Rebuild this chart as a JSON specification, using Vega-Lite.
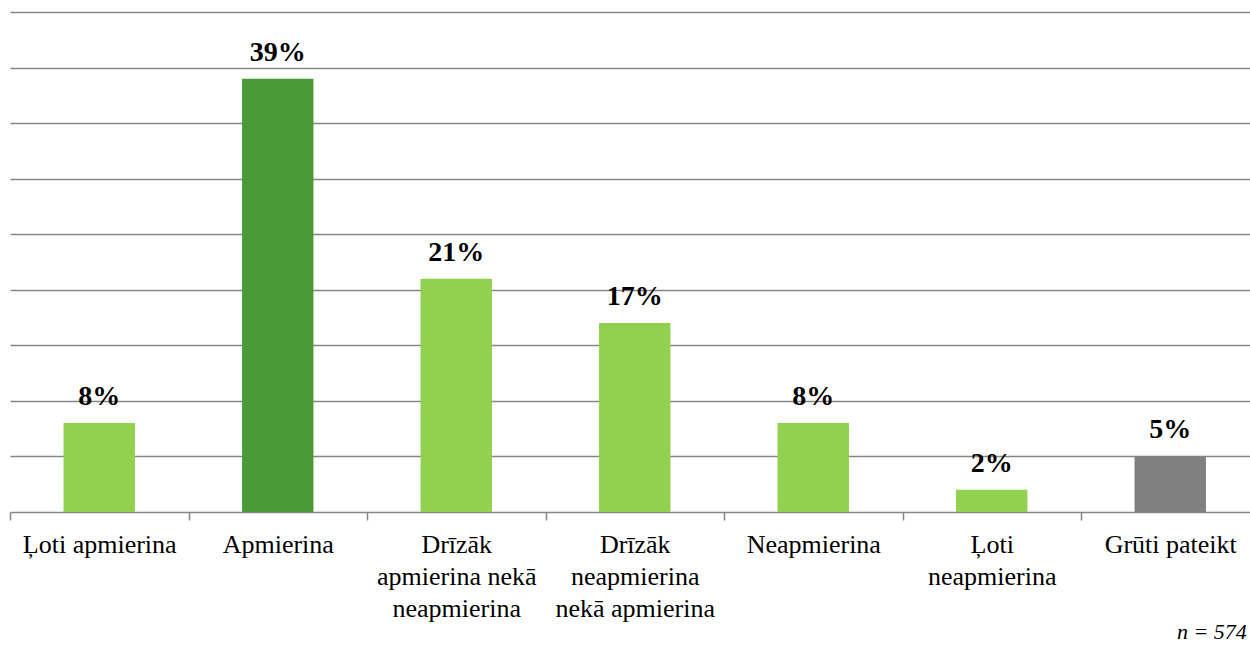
{
  "$schema": "https://vega.github.io/schema/vega-lite/v6.json",
  "autosize": {"type": "none"},
  "width": 1249.5,
  "height": 500,
  "padding": {"left": 10, "top": 12, "right": 0, "bottom": 135},
  "background": "white",
  "config": {"view": {"stroke": null}, "font": "Times New Roman"},
  "title": {
    "text": "n = 574",
    "orient": "bottom",
    "anchor": "end",
    "font": "Times New Roman",
    "fontStyle": "italic",
    "fontWeight": "normal",
    "fontSize": 22,
    "color": "black",
    "dx": -14,
    "offset": 1
  },
  "data": {
    "values": [
      {"atbilde": "Ļoti apmierina", "vertiba": 0.08},
      {"atbilde": "Apmierina", "vertiba": 0.39},
      {"atbilde": "Drīzāk apmierina nekā neapmierina", "vertiba": 0.21},
      {"atbilde": "Drīzāk neapmierina nekā apmierina", "vertiba": 0.17},
      {"atbilde": "Neapmierina", "vertiba": 0.08},
      {"atbilde": "Ļoti neapmierina", "vertiba": 0.02},
      {"atbilde": "Grūti pateikt", "vertiba": 0.05}
    ]
  },
  "encoding": {
    "x": {
      "field": "atbilde",
      "type": "nominal",
      "sort": null,
      "scale": {"paddingInner": 0, "paddingOuter": 0},
      "axis": {
        "title": null,
        "labelAngle": 0,
        "tickBand": "extent",
        "grid": false,
        "domainColor": "#868686",
        "domainWidth": 1.5,
        "tickColor": "#868686",
        "tickWidth": 1.5,
        "tickSize": 8,
        "labelFont": "Times New Roman",
        "labelFontSize": 26,
        "labelColor": "black",
        "labelPadding": 11,
        "labelLineHeight": 32,
        "labelBaseline": "top",
        "labelLimit": 300,
        "labelExpr": "datum.value == 'Drīzāk apmierina nekā neapmierina' ? ['Drīzāk', 'apmierina nekā', 'neapmierina'] : datum.value == 'Drīzāk neapmierina nekā apmierina' ? ['Drīzāk', 'neapmierina', 'nekā apmierina'] : datum.value == 'Ļoti neapmierina' ? ['Ļoti', 'neapmierina'] : datum.value"
      }
    },
    "y": {
      "field": "vertiba",
      "type": "quantitative",
      "scale": {"domain": [0, 0.45], "nice": false},
      "axis": {
        "title": null,
        "labels": false,
        "ticks": false,
        "domain": false,
        "values": [0.05, 0.1, 0.15, 0.2, 0.25, 0.3, 0.35, 0.4, 0.45],
        "gridColor": "#868686",
        "gridWidth": 1.5
      }
    }
  },
  "layer": [
    {
      "mark": {"type": "bar", "width": {"band": 0.4}},
      "encoding": {
        "color": {
          "field": "atbilde",
          "type": "nominal",
          "legend": null,
          "scale": {
            "domain": ["Ļoti apmierina", "Apmierina", "Drīzāk apmierina nekā neapmierina", "Drīzāk neapmierina nekā apmierina", "Neapmierina", "Ļoti neapmierina", "Grūti pateikt"],
            "range": ["#92D050", "#4A9A3A", "#92D050", "#92D050", "#92D050", "#92D050", "#808080"]
          }
        }
      }
    },
    {
      "mark": {
        "type": "text",
        "font": "Times New Roman",
        "fontWeight": "bold",
        "fontSize": 28,
        "color": "black",
        "baseline": "alphabetic",
        "dy": -18
      },
      "encoding": {
        "text": {"field": "vertiba", "type": "quantitative", "format": ".0%"}
      }
    }
  ]
}
